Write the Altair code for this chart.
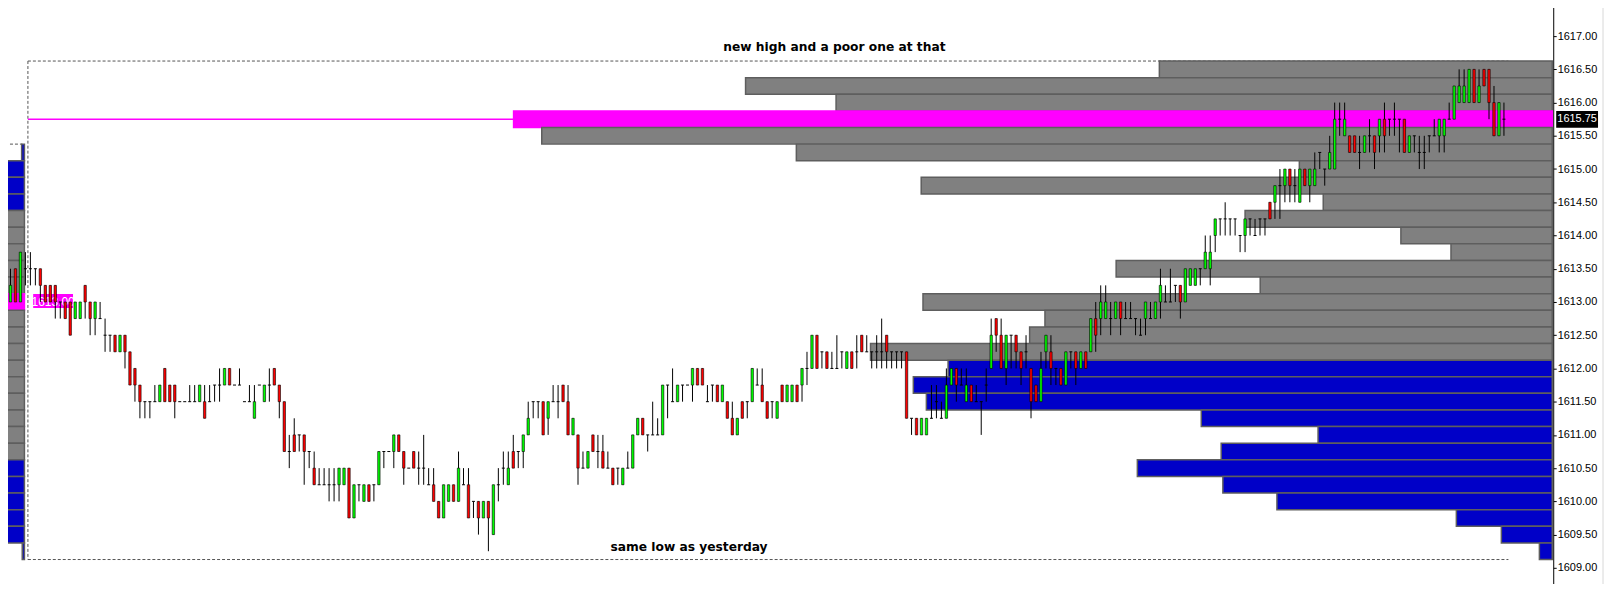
import altair as alt
import pandas as pd

# ---------------- candle data (one bar per index) ----------------
opens = [
    1612.25, 1613.25, 1613.0, 1613.5, 1613.0, 1613.5, 1613.5, 1613.5, 1613.5, 1613.25,
    1613.25, 1613.25, 1613.0, 1613.0, 1613.0, 1612.75, 1612.75, 1613.25, 1613.0, 1612.75,
    1612.75, 1612.5, 1612.5, 1612.5, 1612.25, 1612.5, 1612.25, 1612.0, 1611.75, 1611.5,
    1611.5, 1611.5, 1611.5, 1612.0, 1611.75, 1611.75, 1611.5, 1611.5, 1611.5, 1611.5,
    1611.5, 1611.5, 1611.5, 1611.75, 1611.75, 1611.75, 1612.0, 1611.75, 1611.75, 1611.5,
    1611.5, 1611.25, 1611.75, 1611.5, 1611.75, 1612.0, 1611.75, 1611.5, 1610.75, 1611.0,
    1611.0, 1611.0, 1610.75, 1610.5, 1610.25, 1610.25, 1610.25, 1610.25, 1610.25, 1610.25,
    1610.5, 1609.75, 1610.25, 1610.0, 1610.25, 1610.25, 1610.25, 1610.75, 1610.75, 1610.75,
    1611.0, 1610.75, 1610.5, 1610.75, 1610.5, 1610.5, 1610.25, 1610.25, 1610.0, 1609.75,
    1610.0, 1610.25, 1610.0, 1610.25, 1610.25, 1610.0, 1610.0, 1609.75, 1610.0, 1609.5,
    1610.25, 1610.5, 1610.25, 1610.75, 1610.75, 1610.75, 1611.0, 1611.5, 1611.5, 1611.5,
    1611.25, 1611.5, 1611.5, 1611.75, 1611.5, 1611.0, 1611.0, 1610.5, 1610.5, 1611.0,
    1610.75, 1610.75, 1610.5, 1610.5, 1610.5, 1610.25, 1610.5, 1610.5, 1611.0, 1611.25,
    1611.0, 1611.0, 1611.0, 1611.0, 1611.75, 1611.5, 1611.5, 1611.75, 1611.75, 1611.75,
    1612.0, 1612.0, 1611.5, 1611.75, 1611.75, 1611.5, 1611.5, 1611.25, 1611.0, 1611.5,
    1611.5, 1611.5, 1611.75, 1611.75, 1611.5, 1611.5, 1611.25, 1611.75, 1611.5, 1611.5,
    1611.75, 1611.75, 1612.0, 1612.0, 1612.5, 1612.25, 1612.25, 1612.0, 1612.0, 1612.25,
    1612.0, 1612.25, 1612.25, 1612.5, 1612.25, 1612.25, 1612.25, 1612.25, 1612.5, 1612.25,
    1612.25, 1612.25, 1612.25, 1611.25, 1611.25, 1611.0, 1611.0, 1611.25, 1611.5, 1611.25,
    1611.25, 1611.75, 1612.0, 1611.75, 1611.5, 1611.75, 1611.5, 1611.5, 1611.75, 1612.0,
    1612.75, 1612.5, 1612.0, 1612.5, 1612.5, 1612.25, 1612.25, 1612.0, 1611.75, 1611.5,
    1612.25, 1612.25, 1612.0, 1612.0, 1611.75, 1612.25, 1612.25, 1612.0, 1612.25, 1612.25,
    1612.75, 1612.75, 1612.75, 1612.75, 1612.75, 1613.0, 1612.75, 1612.75, 1612.75, 1612.5,
    1612.75, 1612.75, 1612.75, 1613.0, 1613.0, 1613.0, 1613.25, 1613.25, 1613.0, 1613.25,
    1613.25, 1613.5, 1613.5, 1613.5, 1614.0, 1614.25, 1614.25, 1614.25, 1614.25, 1614.0,
    1614.0, 1614.25, 1614.0, 1614.25, 1614.25, 1614.5, 1614.5, 1614.75, 1614.75, 1615.0,
    1614.75, 1614.5, 1615.0, 1614.75, 1614.75, 1615.25, 1615.0, 1615.0, 1615.0, 1615.75,
    1615.5, 1615.5, 1615.5, 1615.25, 1615.25, 1615.5, 1615.5, 1615.5, 1615.75, 1615.75,
    1615.75, 1615.75, 1615.75, 1615.25, 1615.5, 1615.25, 1615.25, 1615.5, 1615.5, 1615.5,
    1615.5, 1615.75, 1615.75, 1616.0, 1616.0, 1616.0, 1616.5, 1616.0, 1616.5, 1616.5,
    1616.0, 1615.5, 1615.75,
]
highs = [
    1613.25, 1613.5, 1613.5, 1613.5, 1613.75, 1613.75, 1613.75, 1613.5, 1613.5, 1613.25,
    1613.25, 1613.25, 1613.0, 1613.0, 1613.0, 1613.0, 1613.0, 1613.25, 1613.0, 1613.0,
    1613.0, 1612.75, 1612.5, 1612.5, 1612.5, 1612.5, 1612.25, 1612.0, 1611.75, 1611.5,
    1611.5, 1611.75, 1611.75, 1612.0, 1611.75, 1611.75, 1611.5, 1611.5, 1611.75, 1611.75,
    1611.75, 1611.75, 1611.75, 1611.75, 1612.0, 1612.0, 1612.0, 1611.75, 1612.0, 1611.5,
    1611.75, 1611.75, 1611.75, 1611.75, 1612.0, 1612.0, 1611.75, 1611.5, 1611.0, 1611.25,
    1611.0, 1611.0, 1610.75, 1610.75, 1610.5, 1610.5, 1610.5, 1610.5, 1610.5, 1610.5,
    1610.5, 1610.25, 1610.25, 1610.25, 1610.25, 1610.25, 1610.75, 1610.75, 1610.75, 1611.0,
    1611.0, 1610.75, 1610.5, 1610.75, 1610.75, 1611.0, 1610.5, 1610.5, 1610.0, 1610.25,
    1610.25, 1610.25, 1610.75, 1610.5, 1610.5, 1610.0, 1610.0, 1610.0, 1610.0, 1610.25,
    1610.5, 1610.75, 1610.75, 1611.0, 1610.75, 1611.0, 1611.5, 1611.5, 1611.5, 1611.5,
    1611.5, 1611.75, 1611.75, 1611.75, 1611.75, 1611.25, 1611.0, 1610.75, 1610.75, 1611.0,
    1611.0, 1611.0, 1610.75, 1610.5, 1610.5, 1610.5, 1610.75, 1611.0, 1611.25, 1611.25,
    1611.0, 1611.5, 1611.25, 1611.75, 1611.75, 1612.0, 1611.75, 1611.75, 1611.75, 1612.0,
    1612.0, 1612.0, 1611.75, 1611.75, 1611.75, 1611.75, 1611.5, 1611.5, 1611.25, 1611.5,
    1611.5, 1612.0, 1612.0, 1612.0, 1611.5, 1611.5, 1611.5, 1611.75, 1611.75, 1611.75,
    1611.75, 1612.0, 1612.25, 1612.5, 1612.5, 1612.25, 1612.25, 1612.25, 1612.5, 1612.25,
    1612.25, 1612.25, 1612.5, 1612.5, 1612.5, 1612.25, 1612.5, 1612.75, 1612.5, 1612.25,
    1612.25, 1612.25, 1612.25, 1611.25, 1611.25, 1611.25, 1611.25, 1611.75, 1611.75, 1611.5,
    1612.0, 1612.0, 1612.0, 1612.0, 1612.0, 1611.75, 1611.75, 1611.5, 1612.0, 1612.75,
    1612.75, 1612.75, 1612.5, 1612.5, 1612.5, 1612.25, 1612.5, 1612.0, 1611.75, 1612.25,
    1612.5, 1612.5, 1612.0, 1612.0, 1612.25, 1612.25, 1612.25, 1612.25, 1612.25, 1612.75,
    1613.0, 1613.25, 1613.25, 1613.0, 1613.0, 1613.0, 1613.0, 1613.0, 1612.75, 1612.75,
    1613.0, 1613.0, 1613.0, 1613.5, 1613.25, 1613.5, 1613.25, 1613.25, 1613.5, 1613.5,
    1613.5, 1613.5, 1614.0, 1614.0, 1614.25, 1614.25, 1614.5, 1614.25, 1614.25, 1614.0,
    1614.25, 1614.25, 1614.25, 1614.25, 1614.25, 1614.5, 1614.75, 1615.0, 1615.0, 1615.0,
    1615.0, 1615.0, 1615.0, 1615.0, 1615.25, 1615.25, 1615.0, 1615.5, 1616.0, 1616.0,
    1616.0, 1615.5, 1615.5, 1615.5, 1615.5, 1615.75, 1615.5, 1615.75, 1616.0, 1615.75,
    1616.0, 1615.75, 1615.75, 1615.5, 1615.5, 1615.5, 1615.5, 1615.5, 1615.75, 1615.75,
    1615.75, 1616.0, 1616.25, 1616.5, 1616.5, 1616.5, 1616.5, 1616.5, 1616.5, 1616.5,
    1616.25, 1616.0, 1616.0,
]
lows = [
    1612.0, 1612.75, 1613.0, 1613.0, 1613.0, 1613.25, 1613.25, 1613.25, 1613.0, 1613.0,
    1613.0, 1612.75, 1612.75, 1612.75, 1612.5, 1612.75, 1612.75, 1612.75, 1612.5, 1612.5,
    1612.75, 1612.25, 1612.25, 1612.25, 1612.25, 1612.0, 1611.75, 1611.5, 1611.25, 1611.25,
    1611.25, 1611.5, 1611.5, 1611.5, 1611.5, 1611.25, 1611.5, 1611.5, 1611.5, 1611.5,
    1611.5, 1611.25, 1611.5, 1611.5, 1611.5, 1611.75, 1611.75, 1611.75, 1611.75, 1611.5,
    1611.5, 1611.25, 1611.75, 1611.5, 1611.5, 1611.75, 1611.25, 1610.75, 1610.5, 1610.75,
    1610.75, 1610.25, 1610.5, 1610.25, 1610.25, 1610.25, 1610.0, 1610.0, 1610.0, 1610.25,
    1609.75, 1609.75, 1610.0, 1610.0, 1610.0, 1610.0, 1610.25, 1610.5, 1610.75, 1610.5,
    1610.75, 1610.25, 1610.5, 1610.5, 1610.25, 1610.25, 1610.25, 1610.0, 1609.75, 1609.75,
    1610.0, 1610.0, 1610.0, 1610.25, 1609.75, 1609.75, 1609.5, 1609.75, 1609.25, 1609.5,
    1610.0, 1610.25, 1610.25, 1610.5, 1610.5, 1610.5, 1611.0, 1611.25, 1611.25, 1611.0,
    1611.0, 1611.5, 1611.25, 1611.5, 1611.0, 1611.0, 1610.25, 1610.5, 1610.5, 1610.75,
    1610.5, 1610.5, 1610.5, 1610.25, 1610.25, 1610.25, 1610.5, 1610.5, 1611.0, 1611.0,
    1610.75, 1611.0, 1611.0, 1611.0, 1611.25, 1611.5, 1611.5, 1611.5, 1611.75, 1611.5,
    1611.75, 1611.75, 1611.5, 1611.5, 1611.5, 1611.5, 1611.25, 1611.0, 1611.0, 1611.25,
    1611.25, 1611.5, 1611.75, 1611.5, 1611.25, 1611.25, 1611.25, 1611.5, 1611.5, 1611.5,
    1611.5, 1611.5, 1611.75, 1612.0, 1612.0, 1612.0, 1612.0, 1612.0, 1612.0, 1612.0,
    1612.0, 1612.0, 1612.0, 1612.25, 1612.25, 1612.0, 1612.0, 1612.0, 1612.0, 1612.0,
    1612.0, 1612.0, 1611.25, 1611.0, 1611.0, 1611.0, 1611.0, 1611.25, 1611.25, 1611.25,
    1611.25, 1611.75, 1611.5, 1611.75, 1611.5, 1611.5, 1611.5, 1611.0, 1611.5, 1612.0,
    1612.25, 1612.0, 1611.75, 1612.0, 1612.0, 1611.75, 1612.0, 1611.25, 1611.5, 1611.5,
    1612.0, 1611.75, 1611.75, 1611.75, 1611.75, 1612.0, 1611.75, 1612.0, 1612.0, 1612.25,
    1612.25, 1612.5, 1612.75, 1612.5, 1612.75, 1612.5, 1612.75, 1612.75, 1612.5, 1612.5,
    1612.5, 1612.75, 1612.75, 1612.75, 1613.0, 1613.0, 1613.0, 1612.75, 1613.0, 1613.25,
    1613.25, 1613.25, 1613.5, 1613.25, 1613.75, 1614.0, 1614.0, 1614.0, 1614.0, 1613.75,
    1613.75, 1614.0, 1614.0, 1614.0, 1614.0, 1614.25, 1614.25, 1614.25, 1614.5, 1614.5,
    1614.5, 1614.5, 1614.75, 1614.5, 1614.75, 1615.0, 1614.75, 1615.0, 1615.0, 1615.5,
    1615.5, 1615.25, 1615.25, 1615.0, 1615.25, 1615.25, 1615.0, 1615.25, 1615.25, 1615.5,
    1615.5, 1615.25, 1615.25, 1615.25, 1615.25, 1615.0, 1615.0, 1615.25, 1615.5, 1615.25,
    1615.25, 1615.75, 1615.75, 1616.0, 1616.0, 1616.0, 1616.0, 1616.0, 1616.25, 1615.75,
    1615.5, 1615.5, 1615.5,
]
closes = [
    1613.25, 1613.25, 1613.25, 1613.0, 1613.75, 1613.5, 1613.5, 1613.5, 1613.25, 1613.0,
    1613.0, 1613.0, 1613.0, 1612.75, 1612.5, 1613.0, 1613.0, 1613.0, 1612.75, 1613.0,
    1612.75, 1612.5, 1612.5, 1612.25, 1612.5, 1612.25, 1611.75, 1611.75, 1611.5, 1611.5,
    1611.5, 1611.5, 1611.75, 1611.5, 1611.5, 1611.5, 1611.5, 1611.5, 1611.5, 1611.5,
    1611.75, 1611.25, 1611.5, 1611.75, 1611.75, 1612.0, 1611.75, 1611.75, 1611.75, 1611.5,
    1611.5, 1611.5, 1611.75, 1611.75, 1611.75, 1611.75, 1611.5, 1610.75, 1610.75, 1610.75,
    1611.0, 1610.75, 1610.75, 1610.25, 1610.25, 1610.25, 1610.25, 1610.25, 1610.5, 1610.5,
    1609.75, 1610.25, 1610.25, 1610.25, 1610.0, 1610.25, 1610.75, 1610.75, 1610.75, 1611.0,
    1610.75, 1610.5, 1610.5, 1610.5, 1610.5, 1610.5, 1610.25, 1610.0, 1609.75, 1610.25,
    1610.25, 1610.0, 1610.5, 1610.25, 1609.75, 1610.0, 1609.75, 1610.0, 1609.75, 1610.25,
    1610.25, 1610.5, 1610.5, 1610.5, 1610.75, 1611.0, 1611.25, 1611.5, 1611.5, 1611.0,
    1611.5, 1611.5, 1611.5, 1611.5, 1611.0, 1611.25, 1610.5, 1610.5, 1610.75, 1610.75,
    1610.75, 1610.5, 1610.5, 1610.25, 1610.5, 1610.5, 1610.5, 1611.0, 1611.25, 1611.0,
    1611.0, 1611.0, 1611.0, 1611.75, 1611.75, 1611.5, 1611.75, 1611.75, 1611.75, 1612.0,
    1611.75, 1611.75, 1611.5, 1611.75, 1611.5, 1611.75, 1611.25, 1611.0, 1611.25, 1611.25,
    1611.5, 1612.0, 1611.75, 1611.5, 1611.25, 1611.5, 1611.5, 1611.5, 1611.75, 1611.75,
    1611.5, 1612.0, 1612.0, 1612.5, 1612.0, 1612.25, 1612.0, 1612.0, 1612.0, 1612.25,
    1612.25, 1612.0, 1612.25, 1612.25, 1612.25, 1612.25, 1612.25, 1612.25, 1612.25, 1612.25,
    1612.25, 1612.25, 1611.25, 1611.25, 1611.0, 1611.25, 1611.25, 1611.25, 1611.5, 1611.25,
    1611.75, 1612.0, 1611.75, 1611.75, 1611.75, 1611.5, 1611.5, 1611.5, 1611.75, 1612.5,
    1612.5, 1612.0, 1612.5, 1612.5, 1612.25, 1612.0, 1612.25, 1611.5, 1611.5, 1612.0,
    1612.5, 1612.0, 1612.0, 1611.75, 1612.25, 1612.25, 1612.0, 1612.25, 1612.0, 1612.75,
    1612.5, 1613.0, 1613.0, 1612.75, 1613.0, 1612.75, 1612.75, 1612.75, 1612.75, 1612.5,
    1613.0, 1612.75, 1613.0, 1613.25, 1613.0, 1613.0, 1613.25, 1613.0, 1613.5, 1613.5,
    1613.5, 1613.5, 1613.75, 1613.75, 1614.25, 1614.25, 1614.25, 1614.25, 1614.25, 1614.0,
    1614.25, 1614.25, 1614.0, 1614.25, 1614.25, 1614.25, 1614.75, 1614.75, 1615.0, 1614.75,
    1614.75, 1615.0, 1614.75, 1615.0, 1615.0, 1615.25, 1615.0, 1615.25, 1615.75, 1615.75,
    1615.75, 1615.25, 1615.25, 1615.25, 1615.5, 1615.5, 1615.25, 1615.75, 1615.5, 1615.75,
    1615.75, 1615.75, 1615.25, 1615.5, 1615.5, 1615.25, 1615.25, 1615.5, 1615.5, 1615.75,
    1615.75, 1615.75, 1616.25, 1616.25, 1616.25, 1616.5, 1616.0, 1616.25, 1616.25, 1616.0,
    1615.5, 1616.0, 1615.75,
]
session_first_bar = 6  # first bar of today's session

# ---------------- today's volume profile (right) ----------------
profile_price = [
    1616.5, 1616.25, 1616.0, 1615.75, 1615.5, 1615.25, 1615.0, 1614.75, 1614.5, 1614.25,
    1614.0, 1613.75, 1613.5, 1613.25, 1613.0, 1612.75, 1612.5, 1612.25, 1612.0, 1611.75,
    1611.5, 1611.25, 1611.0, 1610.75, 1610.5, 1610.25, 1610.0, 1609.75, 1609.5, 1609.25,
]
profile_volume = [
    394.6, 810.2, 719.3, 1043.2, 1014.9, 759.2, 254.0, 633.8, 230.0, 308.5,
    152.0, 101.7, 438.0, 293.3, 632.0, 509.5, 524.9, 684.7, 606.8, 641.7,
    628.6, 352.5, 235.2, 332.5, 416.7, 330.8, 276.5, 96.3, 51.1, 12.9,
]
profile_kind = ["gray"] * 3 + ["poc"] + ["gray"] * 14 + ["blue"] * 12

# ---------------- yesterday's profile (left, mostly cut off) ----------------
prev_price = [
    1615.25, 1615.0, 1614.75, 1614.5, 1614.25, 1614.0, 1613.75, 1613.5, 1613.25, 1613.0,
    1612.75, 1612.5, 1612.25, 1612.0, 1611.75, 1611.5, 1611.25, 1611.0, 1610.75, 1610.5,
    1610.25, 1610.0, 1609.75, 1609.5, 1609.25,
]
prev_volume = [
    2.8, 40, 40, 40, 40, 40, 40, 40, 40, 40,
    40, 40, 40, 40, 40, 40, 40, 40, 40, 40,
    40, 40, 40, 19.8, 2.2,
]
prev_kind = ["blue"] * 4 + ["gray"] * 5 + ["poc"] + ["gray"] * 9 + ["blue"] * 6
prev_poc = 1613.0

y_ticks = [1608.5, 1609.0, 1609.5, 1610.0, 1610.5, 1611.0, 1611.5, 1612.0, 1612.5,
           1613.0, 1613.5, 1614.0, 1614.5, 1615.0, 1615.5, 1616.0, 1616.5, 1617.0, 1617.5]

notes = ["new high and a poor one at that", "same low as yesterday"]
note_bar = [167.5, 138.3]
note_price = [1616.83, 1609.31]

# ---------------- derived tables ----------------
n = len(opens)
candles = pd.DataFrame({"bar": list(range(n)), "open": opens, "high": highs,
                        "low": lows, "close": closes})
candles["dir"] = ["up" if c > o else ("down" if c < o else "flat")
                  for o, c in zip(opens, closes)]

day_high = max(highs[session_first_bar:])
day_low = min(lows[session_first_bar:])
start = session_first_bar - 0.5
end = n - 1 + 0.9
top = day_high + 0.125
bottom = day_low - 0.125
prev_top = max(prev_price) + 0.125
poc_price = profile_price[profile_volume.index(max(profile_volume))]
last_price = closes[-1]

frame = pd.DataFrame({
    "x": [start, start, start, -0.1],
    "x2": [end, end, start, 4.4],
    "y": [top, bottom, top, prev_top],
    "y2": [top, bottom, bottom, prev_top],
})
poc_df = pd.DataFrame({"x": [start], "x2": [end], "y": [poc_price]})
prof = pd.DataFrame({"price": profile_price, "volume": profile_volume, "kind": profile_kind})
prevp = pd.DataFrame({"price": prev_price, "volume": prev_volume, "kind": prev_kind})
prev_lab = pd.DataFrame({"x": [6.56], "x2": [14.56], "xm": [10.56], "y": [prev_poc + 0.12],
                         "y2": [prev_poc - 0.09], "ym": [prev_poc],
                         "t": [f"{prev_poc:.2f}"]})
last_lab = pd.DataFrame({"x": [312.5], "x2": [320.9], "xm": [316.7], "y": [last_price + 0.125],
                         "y2": [last_price - 0.13], "ym": [last_price],
                         "t": [f"{last_price:.2f}"]})
notes_df = pd.DataFrame({"t": notes, "bar": note_bar, "price": note_price})
edge_df = pd.DataFrame({"x": [321.9], "y": [1608.536], "y2": [1617.524]})

# ---------------- scales / helpers ----------------
XK = alt.Scale(domain=[-0.1, 311.9], nice=False, zero=False)
YS = alt.Scale(domain=[1608.536, 1617.524], nice=False, zero=False)
YAX = alt.Axis(orient="right", values=y_ticks, format=".2f", title=None, grid=False,
               tickSize=3, tickColor="black", domainColor="black", labelColor="black",
               labelFont="Liberation Sans", labelFontSize=11, labelPadding=1,
               labelFlush=False, labelOverlap=False, labelBound=False)
KFILL = alt.Scale(domain=["gray", "blue", "poc"], range=["#808080", "#0000C8", "#FF00FF"])
KSTROKE = alt.Scale(domain=["gray", "blue", "poc"], range=["#5E5E5E", "#5E5E5E", "#FF00FF"])


def xk(f):
    return alt.X(f, type="quantitative", scale=XK, axis=None)


def yp(f):
    return alt.Y(f, type="quantitative", scale=YS, axis=YAX)


dashed = alt.Chart(frame).mark_rule(color="#555555", strokeWidth=1, strokeDash=[3, 2]).encode(
    x=xk("x"), x2="x2:Q", y=yp("y"), y2="y2:Q")

poc_line = alt.Chart(poc_df).mark_rule(color="#FF00FF", strokeWidth=1.5).encode(
    x=xk("x"), x2="x2:Q", y=yp("y"))

right_prof = alt.Chart(prof).transform_calculate(
    top="datum.price + 0.125", bottom="datum.price - 0.125", base="0"
).mark_rect(strokeWidth=1.5).encode(
    x=alt.X("volume:Q", scale=alt.Scale(domain=[-1, 1559], reverse=True, nice=False, zero=False), axis=None),
    x2="base:Q",
    y=yp("top"), y2="bottom:Q",
    fill=alt.Fill("kind:N", scale=KFILL, legend=None),
    stroke=alt.Stroke("kind:N", scale=KSTROKE, legend=None),
)

left_prof = alt.Chart(prevp).transform_calculate(
    top="datum.price + 0.125", bottom="datum.price - 0.125", base="0"
).mark_rect(strokeWidth=1.5).encode(
    x=alt.X("volume:Q", scale=alt.Scale(domain=[-1535.5, 24.5], reverse=True, nice=False, zero=False), axis=None),
    x2="base:Q",
    y=yp("top"), y2="bottom:Q",
    fill=alt.Fill("kind:N", scale=KFILL, legend=None),
    stroke=alt.Stroke("kind:N", scale=KSTROKE, legend=None),
)

prev_rect = alt.Chart(prev_lab).mark_rect(color="#FF00FF").encode(
    x=xk("x"), x2="x2:Q", y=yp("y"), y2="y2:Q")
prev_text = alt.Chart(prev_lab).mark_text(color="white", font="Liberation Sans", fontSize=12,
                                          align="center", baseline="middle").encode(
    x=xk("xm"), y=yp("ym"), text="t:N")

base_c = alt.Chart(candles)
wicks = base_c.mark_rule(color="black", strokeWidth=1).encode(
    x=xk("bar"), y=yp("low"), y2="high:Q")
bodies = base_c.transform_filter("datum.open != datum.close").mark_rect(
    stroke="black", strokeWidth=0.6, xOffset=-1.2, x2Offset=1.2
).encode(
    x=xk("bar"), x2="bar:Q", y=yp("open"), y2="close:Q",
    fill=alt.Fill("dir:N", scale=alt.Scale(domain=["up", "down"], range=["#00FF00", "#FF0000"]), legend=None),
)
dojis = base_c.transform_filter("datum.open == datum.close").mark_rule(
    color="black", strokeWidth=1, xOffset=-1.5, x2Offset=1.5
).encode(x=xk("bar"), x2="bar:Q", y=yp("open"))

annot = alt.Chart(notes_df).mark_text(font="DejaVu Sans", fontWeight="bold", fontSize=12.3,
                                      color="black", align="center", baseline="middle").encode(
    x=xk("bar"), y=yp("price"), text="t:N")

last_rect = alt.Chart(last_lab).mark_rect(color="black").encode(
    x=xk("x"), x2="x2:Q", y=yp("y"), y2="y2:Q")
last_text = alt.Chart(last_lab).mark_text(color="white", font="Liberation Sans", fontSize=11,
                                          align="center", baseline="middle").encode(
    x=xk("xm"), y=yp("ym"), text="t:N")

edge = alt.Chart(edge_df).mark_rule(color="#D8D8D8", strokeWidth=1).encode(
    x=xk("x"), y=yp("y"), y2="y2:Q")

chart = alt.layer(
    dashed, poc_line, right_prof, left_prof, prev_rect, prev_text,
    wicks, bodies, dojis, annot, last_rect, last_text, edge
).resolve_scale(
    x="independent", fill="independent", stroke="independent"
).properties(
    width=1560, height=600,
    padding={"left": -8, "top": -8, "right": 52, "bottom": -16},
    autosize=alt.AutoSizeParams(type="none"),
    background="white",
).configure_view(stroke=None)

chart.save("out.html", embed_options={"renderer": "svg", "actions": False})
